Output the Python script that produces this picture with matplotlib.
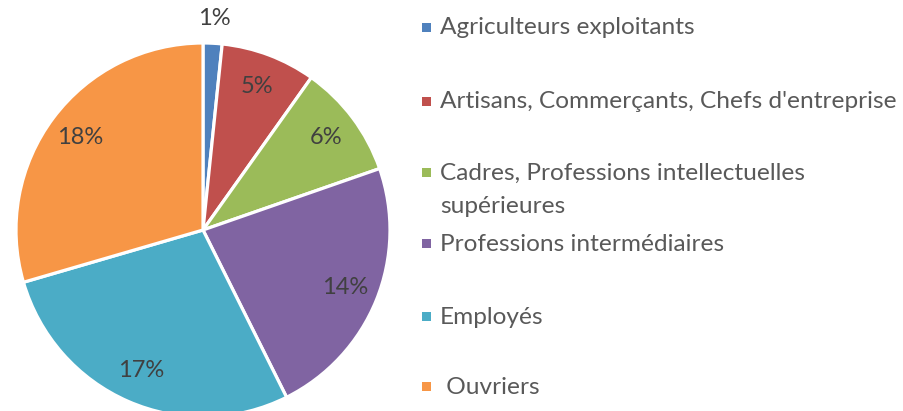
import matplotlib
matplotlib.use('Agg')
import matplotlib.pyplot as plt
import numpy as np
from matplotlib.patches import Rectangle

# data
categories = ['Agriculteurs exploitants',
              'Artisans, Commerçants, Chefs d\'entreprise',
              'Cadres, Professions intellectuelles\nsupérieures',
              'Professions intermédiaires',
              'Employés',
              ' Ouvriers']
values = [1, 5, 6, 14, 17, 18]
pct_labels = ['1%', '5%', '6%', '14%', '17%', '18%']
colors = ['#4F81BD', '#C0504D', '#9BBB59', '#8064A2', '#4BACC6', '#F79646']

FONT = 'Lato'
LABEL_COLOUR = '#404040'
LEGEND_COLOUR = '#595959'

W, H = 904, 411
fig = plt.figure(figsize=(W / 100, H / 100), dpi=100)

# pie axes: centre at (203, 230) px from top-left, radius 187 px
cx, cy, r = 203, 230, 187
ax = fig.add_axes([(cx - r) / W, (H - cy - r) / H, 2 * r / W, 2 * r / H])
wedges, _ = ax.pie(values, colors=colors, startangle=90, counterclock=False,
                   radius=1, wedgeprops=dict(edgecolor='white', linewidth=2.3))
ax.set_xlim(-1, 1)
ax.set_ylim(-1, 1)
ax.axis('off')

# percentage labels, placed along each wedge's mid angle
for i, (w, lab) in enumerate(zip(wedges, pct_labels)):
    mid = np.deg2rad((w.theta1 + w.theta2) / 2)
    dist = 1.13 if i == 0 else 0.82
    ax.text(dist * np.cos(mid), dist * np.sin(mid), lab, ha='center', va='center',
            fontsize=17, color=LABEL_COLOUR, family=FONT, clip_on=False)

# legend drawn by hand (Excel-style spacing)
legend_y = [27, 101, 172, 243, 316, 386]
for lab, col, y in zip(categories, colors, legend_y):
    fig.patches.append(Rectangle((422 / W, 1 - (y + 5) / H), 9 / W, 9 / H,
                                 facecolor=col, edgecolor='none',
                                 transform=fig.transFigure, figure=fig))
    for k, line in enumerate(lab.split('\n')):
        fig.text(440 / W, 1 - (y + 1 + 33 * k) / H, line, ha='left', va='center',
                 fontsize=17.6, color=LEGEND_COLOUR, family=FONT)

fig.savefig('out.png', dpi=100, facecolor='white')
